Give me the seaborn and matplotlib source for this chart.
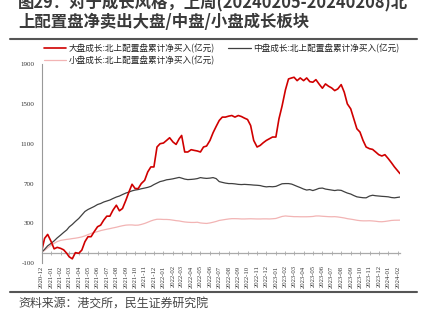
import datetime as dt

import matplotlib
matplotlib.use("Agg")
import matplotlib.pyplot as plt
import matplotlib.dates as mdates
from matplotlib.lines import Line2D
import pandas as pd
import seaborn as sns

# ---- data -------------------------------------------------------------
# sampling dates: 1st, 11th and 21st of every month, 2020-12 .. 2024-01, then 2024-02-08
sample_dates = [dt.date(2020 + (11 + m) // 12, (11 + m) % 12 + 1, d)
                for m in range(38) for d in (1, 11, 21)] + [dt.date(2024, 2, 8)]

large_growth = [15, 150, 190, 120, 45, 60, 50, 35, 0, -35, -55, 7, 0, 33, 117, 167,
                167, 217, 267, 283, 333, 373, 373, 433, 483, 427, 450, 533, 617, 693,
                650, 650, 700, 733, 817, 867, 867, 1067, 1100, 1107, 1133, 1160, 1117,
                1093, 1150, 1183, 1017, 1017, 1040, 1033, 1027, 1017, 1067, 1077, 1133,
                1210, 1273, 1333, 1367, 1367, 1377, 1383, 1367, 1383, 1373, 1357, 1343,
                1283, 1133, 1067, 1083, 1110, 1133, 1150, 1167, 1167, 1350, 1477, 1640,
                1750, 1760, 1767, 1733, 1760, 1733, 1760, 1723, 1717, 1743, 1700, 1657,
                1700, 1677, 1660, 1633, 1650, 1693, 1617, 1500, 1450, 1350, 1250, 1217,
                1133, 1067, 1050, 1043, 1017, 990, 977, 990, 950, 910, 867, 800]

mid_growth = [10, 40, 75, 100, 125, 155, 183, 210, 235, 265, 290, 320, 350, 385, 420,
              440, 455, 470, 490, 500, 515, 525, 535, 550, 565, 575, 590, 605, 615, 627,
              635, 640, 648, 655, 662, 672, 690, 705, 720, 728, 738, 742, 748, 755, 762,
              755, 745, 740, 742, 745, 750, 760, 755, 752, 755, 760, 750, 720, 712, 705,
              700, 700, 697, 692, 690, 692, 690, 688, 685, 683, 680, 672, 667, 670, 668,
              672, 685, 698, 700, 700, 695, 685, 672, 660, 645, 635, 640, 630, 640, 652,
              655, 645, 640, 635, 630, 635, 632, 618, 605, 595, 580, 567, 562, 558, 557,
              575, 583, 578, 575, 572, 570, 567, 560, 557, 565]

small_growth = [10, 30, 55, 80, 100, 118, 130, 135, 140, 143, 148, 152, 158, 165, 175,
                188, 200, 210, 218, 228, 235, 242, 248, 255, 262, 270, 277, 283, 285,
                285, 282, 283, 290, 300, 312, 325, 335, 342, 342, 340, 340, 338, 333,
                328, 325, 320, 315, 312, 310, 310, 312, 305, 302, 300, 305, 312, 320,
                330, 335, 340, 345, 348, 348, 347, 345, 345, 346, 347, 346, 345, 345,
                346, 346, 345, 347, 350, 360, 370, 375, 372, 370, 368, 368, 367, 367,
                367, 368, 370, 375, 375, 372, 370, 368, 367, 368, 365, 360, 355, 348,
                343, 338, 332, 328, 326, 326, 327, 325, 322, 318, 317, 320, 325, 330,
                332, 333]

label_large = "大盘成长:北上配置盘累计净买入(亿元)"
label_mid = "中盘成长:北上配置盘累计净买入(亿元)"
label_small = "小盘成长:北上配置盘累计净买入(亿元)"

y_ticks = [-100, 300, 700, 1100, 1500, 1900]
month_ticks = [dt.date(2020 + (11 + m) // 12, (11 + m) % 12 + 1, 1) for m in range(39)]

title_line1 = "图29：对于成长风格，上周(20240205-20240208)北"
title_line2 = "上配置盘净卖出大盘/中盘/小盘成长板块"
source_text = "资料来源：港交所，民生证券研究院"

# ---- style --------------------------------------------------------------
sns.set_style("white")
plt.rcParams["font.family"] = ["Noto Sans CJK SC", "DejaVu Sans"]

W, H = 428, 323
fig = plt.figure(figsize=(W / 100, H / 100), dpi=100)

left, right, top, bottom = 41.5, 400, 64, 263.3
ax = fig.add_axes([left / W, 1 - bottom / H, (right - left) / W, (bottom - top) / H])

df = pd.DataFrame({
    "date": pd.to_datetime(sample_dates),
    "large": large_growth,
    "mid": mid_growth,
    "small": small_growth,
})

red, dark, pink = "#D00000", "#404040", "#F2B4B4"
sns.lineplot(data=df, x="date", y="small", ax=ax, color=pink, linewidth=0.9, label=label_small)
sns.lineplot(data=df, x="date", y="mid", ax=ax, color=dark, linewidth=0.9, label=label_mid)
sns.lineplot(data=df, x="date", y="large", ax=ax, color=red, linewidth=1.2, label=label_large)

ax.set_xlim(pd.Timestamp("2020-12-01"), pd.Timestamp("2024-02-08"))
ax.set_ylim(-100, 1900)
ax.set_xlabel("")
ax.set_ylabel("")

# y axis
ax.set_yticks(y_ticks)
ax.set_yticklabels([str(v) for v in y_ticks], family="Liberation Serif", fontsize=5, color="#333333")
ax.tick_params(axis="y", direction="in", length=2, width=0.6, color="#999999", pad=5)

# x labels at the bottom, baseline with tick marks at zero
ax.set_xticks(pd.to_datetime(month_ticks))
ax.xaxis.set_major_formatter(mdates.DateFormatter("%Y-%m"))
for lbl in ax.get_xticklabels():
    lbl.set_rotation(90)
    lbl.set_family("Liberation Serif")
    lbl.set_fontsize(4.8)
    lbl.set_color("#333333")
ax.tick_params(axis="x", length=0, pad=1.5)

for side in ("top", "right", "bottom"):
    ax.spines[side].set_visible(False)
ax.spines["left"].set_color("#999999")
ax.spines["left"].set_linewidth(0.8)

base = ax.secondary_xaxis(0.05)
base.set_xticks(pd.to_datetime(month_ticks))
base.tick_params(axis="x", direction="inout", length=2.5, width=0.5, color="#999999", labelbottom=False)
for side in ("top", "left", "right"):
    base.spines[side].set_visible(False)
base.spines["bottom"].set_color("#aaaaaa")
base.spines["bottom"].set_linewidth(0.9)

# legend: two columns, large & mid on the first row, small on the second
handles, labels = ax.get_legend_handles_labels()
order = {label_large: 0, label_small: 1, label_mid: 2}
pairs = sorted(zip(handles, labels), key=lambda p: order[p[1]])
leg = ax.legend([p[0] for p in pairs], [p[1] for p in pairs], ncol=2,
                loc="upper left", bbox_to_anchor=(2 / (right - left), 1 + 20 / (bottom - top)),
                frameon=False, fontsize=6.2, handlelength=2.6, handletextpad=0.3,
                columnspacing=1.6, labelspacing=0.25, borderaxespad=0, borderpad=0)
for t in leg.get_texts():
    t.set_color("#222222")

# title, rules and source line
fig.text(18 / W, 1 - 3 / H, title_line1, fontsize=11.8, fontweight="bold", color="#3a3a3a",
         ha="left", va="center")
fig.text(18 / W, 1 - 22 / H, title_line2, fontsize=11.8, fontweight="bold", color="#3a3a3a",
         ha="left", va="center")
fig.add_artist(Line2D([10 / W, 417 / W], [1 - 38.5 / H] * 2, color="#555555", linewidth=1.5))
fig.add_artist(Line2D([10 / W, 417 / W], [1 - 292 / H] * 2, color="#555555", linewidth=1.5))
fig.text(18 / W, 1 - 303 / H, source_text, fontsize=8.6, color="#444444", ha="left", va="center")

fig.savefig("out.png", dpi=100)
